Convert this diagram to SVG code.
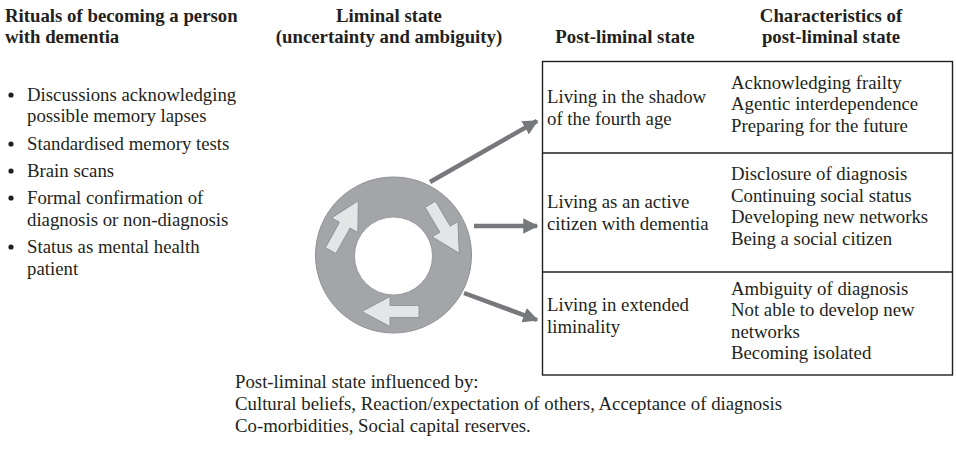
<svg xmlns="http://www.w3.org/2000/svg" width="956" height="451" viewBox="0 0 956 451">
  <style>
    text { font-family: "Liberation Serif", "Times New Roman", serif; font-size: 18.8px; fill: #231f20; }
    .hd { font-weight: bold; }
    .mid { text-anchor: middle; }
    .conn { stroke: #77787b; stroke-width: 4.5; fill: none; }
    .box { fill: none; stroke: #231f20; stroke-width: 1.4; }
    .turn { fill: #e4e5e7; stroke: #8a8c8f; stroke-width: 0.8; }
  </style>
  <defs>
    <marker id="head" viewBox="0 0 10 10" refX="9" refY="5" markerWidth="3.4" markerHeight="3.4" orient="auto" markerUnits="strokeWidth">
      <path d="M0,0 L10,5 L0,10 Z" fill="#77787b"/>
    </marker>
    <polygon id="turnArrow" class="turn" points="0,0 -28,-15 -28,-6 -57,-6 -57,6 -28,6 -28,15"/>
  </defs>
  <rect width="956" height="451" fill="#ffffff"/>

  <!-- column headings -->
  <g id="headings">
    <text class="hd" x="5" y="22">Rituals of becoming a person</text>
    <text class="hd" x="5" y="42.5">with dementia</text>
    <text class="hd mid" x="389" y="22">Liminal state</text>
    <text class="hd mid" x="389" y="42.5">(uncertainty and ambiguity)</text>
    <text class="hd mid" x="625" y="43">Post-liminal state</text>
    <text class="hd mid" x="831" y="22">Characteristics of</text>
    <text class="hd mid" x="831" y="43">post-liminal state</text>
  </g>

  <!-- rituals list -->
  <g id="rituals">
    <circle cx="11" cy="95" r="2.6" fill="#231f20"/>
    <text x="27" y="100.5">Discussions acknowledging</text>
    <text x="27" y="122">possible memory lapses</text>
    <circle cx="11" cy="144" r="2.6" fill="#231f20"/>
    <text x="27" y="149.5">Standardised memory tests</text>
    <circle cx="11" cy="171" r="2.6" fill="#231f20"/>
    <text x="27" y="176.5">Brain scans</text>
    <circle cx="11" cy="198" r="2.6" fill="#231f20"/>
    <text x="27" y="203.5">Formal confirmation of</text>
    <text x="27" y="225.5">diagnosis or non-diagnosis</text>
    <circle cx="11" cy="247" r="2.6" fill="#231f20"/>
    <text x="27" y="252.5">Status as mental health</text>
    <text x="27" y="274.5">patient</text>
  </g>

  <!-- liminal cycle -->
  <g id="liminal">
    <circle cx="393.5" cy="255" r="78" fill="#a3a5a8" stroke="#8f9194" stroke-width="1"/>
    <circle cx="393.5" cy="256" r="39" fill="#ffffff" stroke="#8f9194" stroke-width="0.8"/>
    <use href="#turnArrow" transform="translate(358.3,200.7) rotate(-61)"/>
    <use href="#turnArrow" transform="translate(459.3,253.3) rotate(59.4)"/>
    <use href="#turnArrow" transform="translate(362,311.5) rotate(180)"/>
  </g>

  <!-- connectors -->
  <g id="connectors">
    <line class="conn" x1="430" y1="182" x2="537" y2="121" marker-end="url(#head)"/>
    <line class="conn" x1="474" y1="226" x2="537" y2="226" marker-end="url(#head)"/>
    <line class="conn" x1="464" y1="293" x2="537" y2="320" marker-end="url(#head)"/>
  </g>

  <!-- outcome table -->
  <g id="table">
    <rect class="box" x="542.5" y="61.5" width="410" height="313.5"/>
    <line class="box" x1="542.5" y1="153" x2="952.5" y2="153"/>
    <line class="box" x1="542.5" y1="272" x2="952.5" y2="272"/>
  </g>

  <g id="shadow-fourth-age">
    <text x="547" y="103">Living in the shadow</text>
    <text x="547" y="124.5">of the fourth age</text>
    <text x="731" y="88.5">Acknowledging frailty</text>
    <text x="731" y="110">Agentic interdependence</text>
    <text x="731" y="131.5">Preparing for the future</text>
  </g>

  <g id="active-citizen">
    <text x="547" y="208">Living as an active</text>
    <text x="547" y="229.5">citizen with dementia</text>
    <text x="731" y="180">Disclosure of diagnosis</text>
    <text x="731" y="201.5">Continuing social status</text>
    <text x="731" y="223">Developing new networks</text>
    <text x="731" y="244.5">Being a social citizen</text>
  </g>

  <g id="extended-liminality">
    <text x="547" y="311">Living in extended</text>
    <text x="547" y="332.5">liminality</text>
    <text x="731" y="294.5">Ambiguity of diagnosis</text>
    <text x="731" y="316">Not able to develop new</text>
    <text x="731" y="337.5">networks</text>
    <text x="731" y="359">Becoming isolated</text>
  </g>

  <!-- influencing factors -->
  <g id="influences">
    <text x="235" y="387.5">Post-liminal state influenced by:</text>
    <text x="235" y="409.5">Cultural beliefs, Reaction/expectation of others, Acceptance of diagnosis</text>
    <text x="235" y="431.5">Co-morbidities, Social capital reserves.</text>
  </g>
</svg>
